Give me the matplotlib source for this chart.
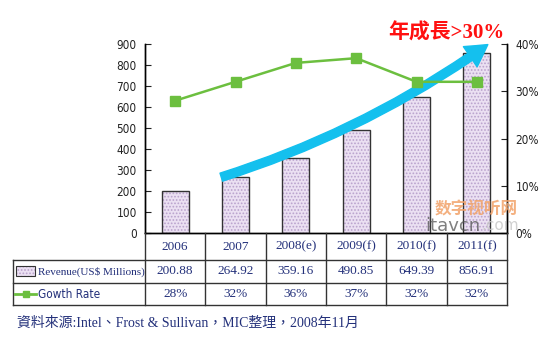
import matplotlib.pyplot as plt
from matplotlib.patches import FancyArrowPatch, Rectangle
from matplotlib.lines import Line2D

plt.rcParams['hatch.linewidth'] = 0.8

# chart data
years = ['2006', '2007', '2008(e)', '2009(f)', '2010(f)', '2011(f)']
revenue = [200.88, 264.92, 359.16, 490.85, 649.39, 856.91]
growth = [28, 32, 36, 37, 32, 32]
revenue_labels = ['200.88', '264.92', '359.16', '490.85', '649.39', '856.91']
growth_labels = ['28%', '32%', '36%', '37%', '32%', '32%']

W, H = 550, 347
bar_face = '#EBE0F2'
bar_dots = '#B9A2CC'
green = '#6CBF3F'
blue_txt = '#23307A'
serif = ['Liberation Serif', 'Noto Sans CJK TC']
narrow = dict(family='DejaVu Sans', stretch='condensed')

fig = plt.figure(figsize=(W / 100, H / 100), dpi=100)

# plot area in pixels
x0, x1 = 145, 507
y_top, y_bot = 44, 233
ax = fig.add_axes([x0 / W, 1 - y_bot / H, (x1 - x0) / W, (y_bot - y_top) / H])
ax2 = ax.twinx()

xs = list(range(len(years)))
ax.bar(xs, revenue, width=0.45, color=bar_face, edgecolor=bar_dots, hatch='.....', linewidth=0, zorder=2)
ax.bar(xs, revenue, width=0.45, fill=False, edgecolor='#333333', linewidth=1.0, zorder=3)

ax2.plot(xs, growth, color=green, linewidth=1.8, marker='s', markersize=7.5, zorder=4)

ax.set_xlim(-0.5, len(years) - 0.5)
ax.set_ylim(0, 900)
ax.set_yticks(range(0, 901, 100))
ax2.set_ylim(0, 40)
ax2.set_yticks(range(0, 41, 10))
ax2.set_yticklabels([f'{v}%' for v in range(0, 41, 10)])
ax.set_xticks([])

for a in (ax, ax2):
    a.spines['top'].set_visible(False)
    for s in a.spines.values():
        s.set_linewidth(1.0)
ax.tick_params(axis='y', direction='in', length=4, labelsize=8.5, colors='#222222', pad=6)
ax2.tick_params(axis='y', direction='in', length=4, labelsize=8.5, colors='#222222', pad=6)
ax2.set_xticks([])
for lab in ax.get_yticklabels() + ax2.get_yticklabels():
    lab.set_fontfamily('DejaVu Sans')
    lab.set_fontstretch('condensed')

# growth arrow
ax.add_patch(FancyArrowPatch((0.72, 262), (5.22, 905), connectionstyle='arc3,rad=0.08',
                             arrowstyle='simple,head_width=1.6,head_length=1.4,tail_width=0.55',
                             mutation_scale=11, color='#14C0EE', clip_on=False, zorder=6))
ax.text(4.5, 950, '年成長>30%', color='#FF1010', fontsize=15, fontweight='bold',
        family=['Liberation Serif', 'Noto Sans CJK SC'], ha='center', va='center', clip_on=False)

# watermark
fig.text(518 / W, 1 - 209 / H, '数字视听网', color='#F2A36A', fontsize=12, fontweight='bold',
         ha='right', va='center', family=['Noto Sans CJK SC'], alpha=0.85)
wm = fig.text(425 / W, 1 - 226 / H, 'itavcn', color='#555555', fontsize=13, ha='left', va='center', alpha=0.75)
ax.annotate('.com', xy=(1, 0.5), xycoords=wm, xytext=(1, 0), textcoords='offset points',
            ha='left', va='center', color='#C8C8C8', fontsize=11, alpha=0.85, annotation_clip=False)

# data table below the chart
tab = fig.add_axes([0, 0, 1, 1])
tab.set_xlim(0, W)
tab.set_ylim(H, 0)
tab.axis('off')
lx = 13
row_y = [233, 260, 283, 305]
col_x = [x0 + (x1 - x0) * k / len(years) for k in range(len(years) + 1)]
for cx in col_x:
    tab.add_line(Line2D([cx, cx], [row_y[0], row_y[-1]], color='#333333', lw=1.0))
tab.add_line(Line2D([lx, lx], [row_y[1], row_y[-1]], color='#333333', lw=1.0))
for ry in row_y[1:]:
    tab.add_line(Line2D([lx, x1], [ry, ry], color='#333333', lw=1.0))

for i in range(len(years)):
    cx = (col_x[i] + col_x[i + 1]) / 2
    tab.text(cx, (row_y[0] + row_y[1]) / 2, years[i], ha='center', va='center', fontsize=9.5,
             color=blue_txt, family=serif)
    tab.text(cx, (row_y[1] + row_y[2]) / 2, revenue_labels[i], ha='center', va='center', fontsize=9.5,
             color=blue_txt, family=serif)
    tab.text(cx, (row_y[2] + row_y[3]) / 2, growth_labels[i], ha='center', va='center', fontsize=9.5,
             color=blue_txt, family=serif)

# row labels with legend keys
tab.add_patch(Rectangle((16, 266), 19, 10, facecolor=bar_face, edgecolor=bar_dots, hatch='.....', lw=0))
tab.add_patch(Rectangle((16, 266), 19, 10, fill=False, edgecolor='#333333', lw=0.8))
tab.text(38, 271.5, 'Revenue(US$ Millions)', ha='left', va='center', fontsize=8, color=blue_txt, family=serif)
tab.add_line(Line2D([15, 25.5, 36], [294, 294, 294], color=green, lw=2, marker='s', markersize=5,
                    markevery=[1]))
tab.text(38, 294.5, 'Gowth Rate', ha='left', va='center', fontsize=8.5, color=blue_txt, **narrow)

fig.text(17 / W, 1 - 323 / H, '資料來源:Intel、Frost & Sullivan，MIC整理，2008年11月', ha='left', va='center',
         fontsize=10, color=blue_txt, family=serif)

fig.savefig('out.png', dpi=100)
